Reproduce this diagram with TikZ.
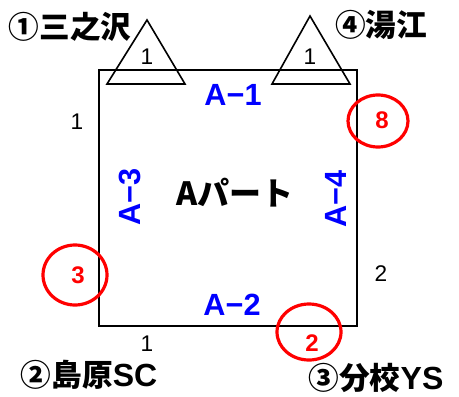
\documentclass[tikz,border=0pt]{standalone}
\usepackage{fontspec}
\setmainfont{Liberation Sans}
\newfontfamily\jp{Noto Sans CJK JP}
\newcommand{\lat}[1]{{\rmfamily\bfseries\fontsize{24}{26}\selectfont #1}}
\begin{document}
\begin{tikzpicture}[x=0.75pt,y=-0.75pt,
  place/.style={font=\jp\bfseries\fontsize{23}{25}\selectfont, inner sep=0pt},
  side/.style={font=\fontsize{17}{19}\selectfont, inner sep=0pt},
  part/.style={font=\bfseries\fontsize{23}{25}\selectfont, text=blue, inner sep=0pt},
  rnum/.style={font=\bfseries\fontsize{18}{20}\selectfont, text=red, inner sep=0pt},
  ring/.style={draw=red, line width=2.4pt},
  edge/.style={draw=black, line width=1.2pt}]
\useasboundingbox (0,0) rectangle (459,396);
% main rectangle
\coordinate (r1) at (99,70);
\coordinate (r2) at (357,326);
\draw[edge] (r1) rectangle (r2);
% triangles
\coordinate (ta) at (147,20);
\coordinate (tb) at (107,84);
\coordinate (tc) at (185,84);
\draw[edge] (ta) -- (tb) -- (tc) -- cycle;
\coordinate (ua) at (310,16);
\coordinate (ub) at (272,84);
\coordinate (uc) at (350,84);
\draw[edge] (ua) -- (ub) -- (uc) -- cycle;
\node[side] (n1) at (147,57) {1};
\node[side] (n2) at (310,57) {1};
% place names
\node[place] (p1) at (70,27) {①三之沢};
\node[place] (p4) at (381,25) {④湯江};
\node[place] (p2) at (89,375) {②島原\lat{SC}};
\node[place] (p3) at (376,378) {③分校\lat{YS}};
% side numbers
\node[side] (s1) at (77,122) {1};
\node[side] (s2) at (147,344) {1};
\node[side] (s3) at (381,274) {2};
% part labels
\node[part] (a1) at (233,95) {A−1};
\node[part] (a2) at (232,305) {A−2};
\node[part, rotate=90] (a3) at (130,197) {A−3};
\node[part, rotate=90] (a4) at (336,199) {A−4};
\node[font=\jp\bfseries\fontsize{24}{26}\selectfont, inner sep=0pt] (ap) at (235,193) {Aパート};
% red circles
\draw[ring] (378,121) ellipse [x radius=30, y radius=26];
\node[rnum] (c8) at (382,120) {8};
\draw[ring] (75,275) ellipse [x radius=32, y radius=30];
\node[rnum] (c3) at (78,275) {3};
\draw[ring] (309,332) ellipse [x radius=32, y radius=28];
\node[rnum] (c2) at (312,343) {2};
\end{tikzpicture}
\end{document}
